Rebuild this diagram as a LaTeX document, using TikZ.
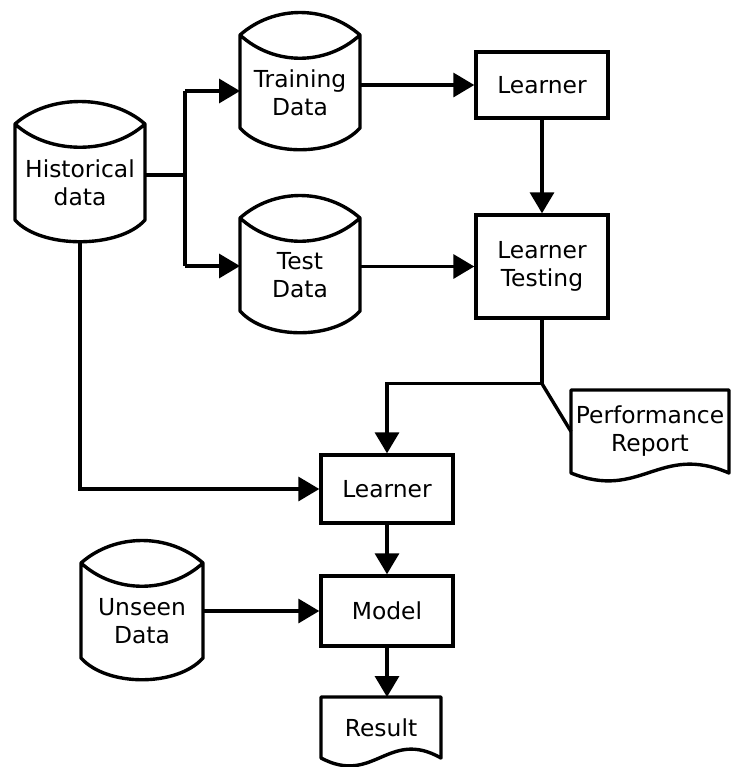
\documentclass[tikz,border=0pt]{standalone}
\usepackage{fontspec}
\setmainfont{DejaVu Sans}
\usepackage{tikz}
\usetikzlibrary{arrows.meta,positioning,calc}
\tikzset{
line/.style={line width=1.7pt},
arr/.style={line,-{Triangle[length=10.5pt,width=12pt]}},
box/.style={draw,line,minimum width=66pt,align=center},
store/.style={inner sep=0pt,outer sep=0pt,align=center},
doc/.style={inner sep=0pt,outer sep=0pt,align=center},
}
\tikzstyle{every node}=[font=\fontsize{11.7}{14}\selectfont]
% drum outline round a store node: lens on top, bulging bottom
\newcommand{\drumoutline}[1]{%
    \draw[line,line join=round]
        (#1.north west) .. controls +(34,30) and +(-34,30) .. (#1.north east)
        -- ($(#1.south east)+(0,22)$)
        .. controls +(-26,-29) and +(26,-29) .. ($(#1.south west)+(0,22)$)
        -- cycle
        (#1.north west) .. controls +(34,-31) and +(-34,-31) .. (#1.north east);}
% sheet outline with a wavy lower edge
\newcommand{\docoutline}[1]{%
    \draw[line,line join=round]
        (#1.south west) -- (#1.north west) -- (#1.north east) -- (#1.south east)
        .. controls ($(#1.south west)!.56!(#1.south east)+(0,30)$)
        and ($(#1.south west)!.44!(#1.south east)+(0,-28)$) .. (#1.south west)
        -- cycle;}

\begin{document}
\begin{tikzpicture}[x=0.5pt,y=0.5pt]
        \useasboundingbox (0,0) rectangle (730,-767);

        % data sources
        \node[store,minimum width=65pt,minimum height=59pt] (hist) at (80,-183) {Historical\\data};
        \node[store,minimum width=60pt,minimum height=57.5pt] (train) at (300,-92.5) {Training\\Data};
        \node[store,minimum width=60pt,minimum height=57.5pt] (test) at (300,-275.5) {Test\\Data};
        \node[store,minimum width=61pt,minimum height=58.5pt] (unseen) at (142,-621.5) {Unseen\\Data};
        \drumoutline{hist}
        \drumoutline{train}
        \drumoutline{test}
        \drumoutline{unseen}

        % process steps
        \node[box,minimum height=33pt] (learn1) at (542,-85) {Learner};
        \node[box,minimum height=51.5pt] (ltest) at (542,-266.5) {Learner\\Testing};
        \node[box,minimum height=34pt] (learn2) at (387,-489) {Learner};
        \node[box,minimum height=35pt] (model) at (387,-611) {Model};

        % outputs
        \node[doc,minimum width=79pt,minimum height=41.5pt] (perf) at (650,-431.5) {Performance\\Report};
        \node[doc,minimum width=60pt,minimum height=30.5pt] (result) at (381,-727.5) {Result};
        \docoutline{perf}
        \docoutline{result}

        % split of the historical data
        \coordinate (fork) at (185,-175);
        \coordinate (fork top) at (185,-91);
        \coordinate (fork bot) at (185,-266);
        \draw[line] (hist.east |- fork) -- (fork);
        \draw[line] (fork top) -- (fork bot);
        \draw[arr] (fork top) -- (train.west |- fork top);
        \draw[arr] (fork bot) -- (test.west |- fork bot);

        \draw[arr] (train.east |- learn1.west) -- (learn1.west);
        \draw[arr] (test.east |- ltest.west) -- (ltest.west);
        \draw[arr] (learn1.south) -- (ltest.north);

        \coordinate (branch) at ($(ltest.south)+(0,-64)$);
        \draw[line] (ltest.south) -- (branch);
        \draw[arr] (branch) -| (learn2.north);
        \draw[line] (branch) -- (perf.west);

        \draw[arr] (hist.south) |- (learn2.west);
        \draw[arr] (learn2.south) -- (model.north);
        \draw[arr] (unseen.east |- model.west) -- (model.west);
        \draw[arr] (model.south) -- (model.south |- result.north);
    \end{tikzpicture}
\end{document}
